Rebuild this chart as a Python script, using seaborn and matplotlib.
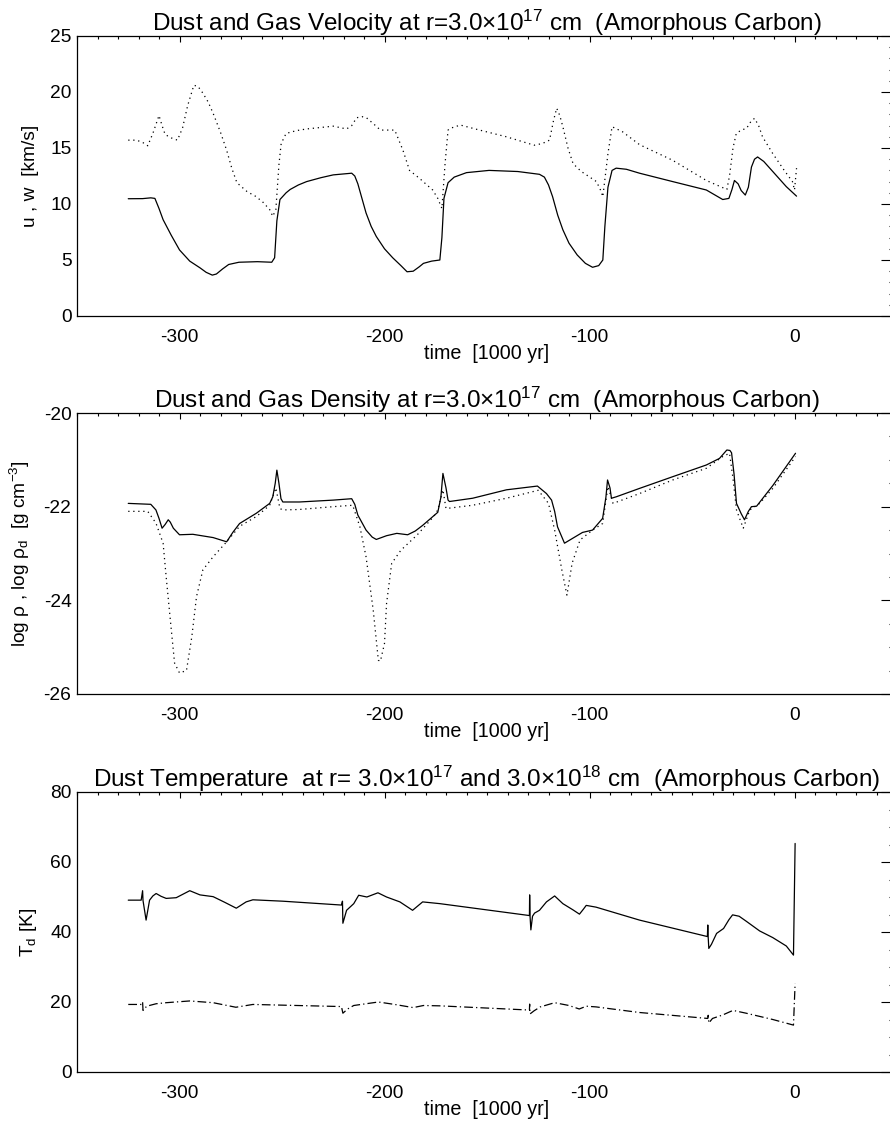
import numpy as np
import pandas as pd
import matplotlib
matplotlib.use("Agg")
import matplotlib.pyplot as plt
from matplotlib.ticker import MultipleLocator
import seaborn as sns

# ---------------- data ----------------
# Panel 1: velocities [km/s]
u_gas_t = [-325, -318, -314, -312, -310, -308, -304, -300, -295, -290, -287, -284, -282, -279, -276,
           -271, -262, -255, -253.6, -252.5, -251, -248, -246, -242, -238, -231, -225, -216, -214.5,
           -213, -211, -209, -206.5, -204, -200, -196, -192, -189, -186, -183, -181, -177, -173,
           -172, -171, -169, -166, -160, -149, -135, -124.4, -122, -120, -118, -115.5, -113, -110,
           -106, -102, -98.5, -95.5, -93.5, -92.5, -91, -89, -87, -82, -75.6, -59.4, -43, -35, -32,
           -30.5, -29.3, -27.5, -26, -24, -22.5, -21, -19.5, -18, -15, -10.6, -4, 1]
u_gas = [10.47, 10.48, 10.55, 10.5, 9.6, 8.6, 7.2, 5.9, 4.9, 4.3, 3.9, 3.65, 3.75, 4.2, 4.6,
         4.8, 4.85, 4.8, 5.2, 8.5, 10.4, 11.0, 11.3, 11.7, 12.0, 12.35, 12.6, 12.75, 12.5,
         11.8, 10.5, 9.2, 8.0, 7.1, 6.0, 5.2, 4.5, 3.95, 4.0, 4.4, 4.7, 4.9, 5.0,
         7.0, 10.5, 11.9, 12.4, 12.8, 13.0, 12.9, 12.65, 12.4, 11.7, 10.65, 9.0, 7.7, 6.5,
         5.45, 4.7, 4.35, 4.5, 5.0, 8.0, 11.5, 13.0, 13.2, 13.1, 12.75, 12.0, 11.25, 10.4, 10.5,
         11.3, 12.1, 11.8, 11.2, 10.8, 11.5, 13.3, 14.0, 14.2, 13.8, 12.9, 11.55, 10.7]

w_dust_t = [-325, -321, -318, -315.5, -313, -310, -308.5, -307, -304, -301, -298.5, -296, -293, -291,
            -288.6, -286, -283.6, -280, -277, -274.5, -272, -267, -263, -259.5, -256, -254.5, -253,
            -251.5, -250.4, -248, -243, -238, -225, -218.5, -216, -213.6, -211, -208.8, -205, -202,
            -198, -195, -191, -187.8, -183, -176.5, -174, -172, -170.5, -169, -168, -163, -153.6,
            -140.5, -127, -123, -119.5, -117.5, -116, -114.5, -113, -110.5, -108, -104, -101.5,
            -96.6, -94.5, -93.5, -91, -89, -83.9, -75.6, -59.4, -43, -33, -31.7, -30, -28.4, -26,
            -23.4, -21.5, -19.5, -17.5, -15.6, -10.6, -5, -1, 0, 1]
w_dust = [15.7, 15.7, 15.5, 15.2, 16.3, 17.9, 17.0, 16.2, 15.9, 15.7, 16.8, 18.8, 20.6, 20.5,
          19.9, 19.1, 18.1, 16.4, 14.8, 13.2, 11.9, 11.1, 10.7, 10.2, 9.5, 8.9, 9.5,
          13.5, 15.4, 16.3, 16.55, 16.7, 16.95, 16.7, 17.0, 17.7, 17.8, 17.7, 17.1, 16.6,
          16.6, 16.6, 14.8, 13.0, 12.3, 11.25, 10.5, 9.6, 13.5, 16.6, 16.75, 17.05, 16.6,
          16.0, 15.25, 15.4, 15.7, 17.5, 18.55, 17.9, 16.9, 15.0, 13.6, 12.9, 12.6,
          12.0, 11.2, 10.65, 14.5, 16.9, 16.45, 15.3, 13.9, 12.1, 11.3, 12.5, 15.0, 16.3, 16.6,
          16.75, 17.3, 17.65, 17.0, 16.0, 14.5, 13.0, 12.0, 11.25, 13.2]

# Panel 2: log densities [g cm^-3]
rho_gas_t = [-325, -314, -311.5, -310, -308.5, -307, -305.5, -304.5, -303, -300, -293.5, -283.6, -277,
             -274, -270.7, -262.5, -256, -254.5, -253.3, -252.5, -251.5, -250.5, -249.6, -241.5,
             -225, -216, -214.5, -213, -209, -206, -204, -199, -194, -188.7, -185, -181.4, -174,
             -172.5, -171.5, -170, -169, -168.3, -157, -140.5, -125.4, -121, -118.5, -117, -115.6,
             -112.2, -108, -103.4, -98.5, -93.6, -92, -91.2, -90, -89.3, -87, -75.6, -59.4, -43,
             -36.6, -33, -31.5, -30.7, -29.5, -28.3, -26, -24.4, -22.5, -21, -18.5, -10.6, 0.5]
rho_gas = [-21.93, -21.95, -22.07, -22.25, -22.46, -22.38, -22.28, -22.33, -22.46, -22.6, -22.59,
           -22.66, -22.75, -22.55, -22.36, -22.14, -21.93, -21.79, -21.5, -21.22, -21.5, -21.83,
           -21.9, -21.9, -21.86, -21.83, -21.95, -22.18, -22.5, -22.65, -22.7, -22.62, -22.57,
           -22.6, -22.52, -22.4, -22.12, -21.8, -21.29, -21.6, -21.86, -21.89, -21.82, -21.64,
           -21.56, -21.72, -21.86, -22.1, -22.43, -22.78, -22.67, -22.55, -22.5, -22.25, -21.8,
           -21.43, -21.6, -21.82, -21.79, -21.61, -21.36, -21.11, -20.97, -20.79, -20.8, -20.85,
           -21.3, -21.93, -22.15, -22.28, -22.1, -22.0, -21.99, -21.55, -20.86]

rho_dust_t = [-325, -315.5, -311.5, -308, -306.5, -304, -302.4, -300, -296.6, -294, -291.7, -288.6,
              -283.6, -277, -270.7, -262.5, -256, -253, -251, -249.6, -241.5, -225, -215.5, -212,
              -209, -205.5, -203, -202, -200, -199, -196.5, -192, -184, -176, -174, -171.5, -170,
              -157, -140.5, -125, -120, -117, -113.5, -111, -108.5, -104.6, -98.5, -93.6, -91,
              -88.5, -75.6, -59.4, -43, -35, -31.7, -30, -28.3, -25, -21.8, -17, -10.6, 0.5]
rho_dust = [-22.1, -22.1, -22.35, -22.78, -23.5, -24.63, -25.34, -25.55, -25.5, -24.78, -23.92,
            -23.35, -23.07, -22.75, -22.42, -22.21, -21.97, -21.6, -22.04, -22.07, -22.06, -22.0,
            -21.97, -22.43, -23.07, -24.21, -25.28, -25.3, -24.92, -24.07, -23.21, -22.93, -22.6,
            -22.21, -22.07, -21.64, -22.04, -21.97, -21.82, -21.65, -21.93, -22.5, -23.35, -23.89,
            -23.21, -22.71, -22.5, -22.36, -21.57, -21.93, -21.72, -21.43, -21.18, -20.93, -20.86,
            -21.4, -22.07, -22.46, -22.07, -21.93, -21.61, -20.93]

# Panel 3: dust temperature [K]
td_inner_t = [-325, -318.7, -318.0, -317.8, -316.3, -314.6, -313, -311.4, -309, -306.5, -301.6,
              -295, -290, -283.6, -278, -272.3, -267.5, -264.2, -249.6, -221, -220.5, -220.3,
              -218.5, -215, -212.6, -208.6, -203.2, -199, -192.5, -186.3, -181.4, -173, -129.3,
              -129.2, -129.0, -128.6, -127.8, -126.8, -124.4, -121, -117, -113, -108, -104.9,
              -103, -101.6, -96.8, -75.6, -42.5, -42.3, -42.1, -41.8, -40.5, -38, -34.6, -32,
              -30.2, -27, -23.6, -17, -10.6, -4, -0.5, 0.3]
td_inner = [49.1, 49.1, 51.8, 49.0, 43.4, 49.1, 50.3, 51.0, 50.2, 49.6, 49.8,
            51.8, 50.6, 50.1, 48.5, 46.8, 48.6, 49.2, 48.8, 47.7, 48.8, 42.5,
            46.2, 48.1, 50.5, 50.0, 51.2, 50.0, 48.6, 46.2, 48.6, 48.1, 44.7,
            50.6, 44.5, 40.6, 44.5, 45.4, 46.2, 48.6, 50.3, 48.1, 46.3, 45.1,
            46.5, 47.6, 47.1, 43.4, 38.7, 42.0, 38.5, 35.3, 36.5, 39.6, 41.0, 43.5,
            44.9, 44.5, 43.1, 40.3, 38.4, 36.0, 33.4, 65.3]

td_outer_t = [-325, -318.5, -318.0, -317.8, -316, -311.4, -306.5, -295, -283.6, -272.5, -264.2,
              -221, -220.3, -218, -215, -203, -195, -186, -181, -173, -129.3, -129.2, -129.0,
              -127, -124, -117, -110, -105, -101.6, -96.8, -75.6, -42.3, -42.1, -41.8, -40,
              -35, -30, -23.6, -10.6, -0.5, 0.3]
td_outer = [19.3, 19.3, 20.0, 17.6, 18.8, 19.5, 19.8, 20.3, 19.8, 18.5, 19.3,
            18.7, 16.8, 18.0, 19.0, 20.0, 19.3, 18.4, 19.0, 18.9, 17.7, 19.4, 16.6,
            17.5, 18.6, 19.8, 19.0, 18.0, 18.8, 18.6, 17.0, 15.3, 16.2, 14.0, 15.3,
            16.3, 17.6, 16.8, 15.0, 13.4, 25.3]

x_ticks = [-300, -200, -100, 0]

titles = [
    "Dust and Gas Velocity at r=3.0\u00d710$^{17}$ cm  (Amorphous Carbon)",
    "Dust and Gas Density at r=3.0\u00d710$^{17}$ cm  (Amorphous Carbon)",
    "Dust Temperature  at r= 3.0\u00d710$^{17}$ and 3.0\u00d710$^{18}$ cm  (Amorphous Carbon)",
]
ylabels = [
    "u , w  [km/s]",
    "log \u03c1 , log \u03c1$_{\\mathrm{d}}$  [g cm$^{-3}$]",
    "T$_{\\mathrm{d}}$ [K]",
]
xlabel = "time  [1000 yr]"

# ---------------- styling ----------------
sns.set_theme(style="white")
plt.rcParams["font.family"] = ["Liberation Sans", "DejaVu Sans"]
plt.rcParams["mathtext.fontset"] = "custom"
plt.rcParams["mathtext.rm"] = "Liberation Sans"
plt.rcParams["mathtext.it"] = "Liberation Sans:italic"
plt.rcParams["mathtext.bf"] = "Liberation Sans:bold"
plt.rcParams["mathtext.sf"] = "Liberation Sans"
plt.rcParams["axes.unicode_minus"] = False

FS = 13.8
FS_TITLE = 17.5
FS_XLAB = 14.2
fig = plt.figure(figsize=(8.9, 11.27), dpi=100)
left = 77 / 890
width = (897 - 77) / 890
H = 1127
boxes = [(316, 280), (694, 281), (1072, 280)]
axes = [fig.add_axes([left, 1 - b / H, width, h / H]) for b, h in boxes]

solid = dict(color="black", linewidth=0.9)
dotted = dict(color="black", linewidth=0.9, linestyle=(0, (1.0, 3.0)))
dashdot = dict(color="black", linewidth=0.9, linestyle=(0, (7.0, 2.5, 1.0, 2.5)))

df1a = pd.DataFrame({"t": u_gas_t, "v": u_gas})
df1b = pd.DataFrame({"t": w_dust_t, "v": w_dust})
df2a = pd.DataFrame({"t": rho_gas_t, "v": rho_gas})
df2b = pd.DataFrame({"t": rho_dust_t, "v": rho_dust})
df3a = pd.DataFrame({"t": td_inner_t, "v": td_inner})
df3b = pd.DataFrame({"t": td_outer_t, "v": td_outer})

common = dict(x="t", y="v", estimator=None, sort=False, legend=False)
sns.lineplot(data=df1a, ax=axes[0], **common, **solid)
sns.lineplot(data=df1b, ax=axes[0], **common, **dotted)
sns.lineplot(data=df2a, ax=axes[1], **common, **solid)
sns.lineplot(data=df2b, ax=axes[1], **common, **dotted)
sns.lineplot(data=df3a, ax=axes[2], **common, **solid)
sns.lineplot(data=df3b, ax=axes[2], **common, **dashdot)

ylims = [(0, 25), (-26, -20), (0, 80)]
ymaj = [5, 2, 20]
ymin = [1, 0.5, 5]

for ax, title, yl, lim, mj, mn in zip(axes, titles, ylabels, ylims, ymaj, ymin):
    ax.set_xlim(-350, 50)
    ax.set_ylim(*lim)
    ax.set_xticks(x_ticks)
    ax.xaxis.set_minor_locator(MultipleLocator(10))
    ax.yaxis.set_major_locator(MultipleLocator(mj))
    ax.yaxis.set_minor_locator(MultipleLocator(mn))
    ax.tick_params(axis="both", which="both", direction="in", top=True, right=True,
                   color="black", width=0.8, labelsize=FS, labelcolor="black")
    ax.tick_params(axis="x", which="major", length=4.3, pad=9)
    ax.tick_params(axis="x", which="minor", length=2.2)
    ax.tick_params(axis="y", which="major", length=11.5, pad=4)
    ax.tick_params(axis="y", which="minor", length=5.8)
    for s in ax.spines.values():
        s.set_color("black")
        s.set_linewidth(0.9)
    ax.set_title(title, fontsize=FS_TITLE, color="black", pad=3.5)
    ax.set_xlabel(xlabel, fontsize=FS_XLAB, color="black", labelpad=-1)
    ax.set_ylabel(yl, fontsize=FS, color="black", labelpad=8)
    ax.grid(False)

fig.savefig("out.png", dpi=100)
